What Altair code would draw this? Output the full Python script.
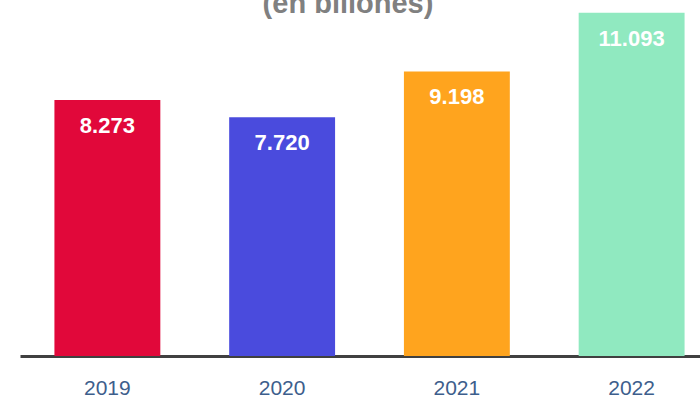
import altair as alt
import pandas as pd

years = ["2019", "2020", "2021", "2022"]
values = [8.273, 7.720, 9.198, 11.093]
labels = ["8.273", "7.720", "9.198", "11.093"]
colors = ["#E1083A", "#4A4BDD", "#FFA41E", "#90E9C0"]
title_text = "(en billones)"

df = pd.DataFrame({"year": years, "value": values, "label": labels})

x = alt.X("year:N", sort=years, title=None,
          scale=alt.Scale(paddingInner=0.394, paddingOuter=0.197, range=[0, 699]),
          axis=alt.Axis(labelAngle=0, labelFontSize=21, labelColor="#3D5E8C",
                        labelFont="Liberation Sans", labelPadding=21,
                        ticks=False, domainColor="#404040", domainWidth=3,
                        grid=False))
y = alt.Y("value:Q", title=None, axis=None,
          scale=alt.Scale(domain=[0, 11.506], nice=False, zero=True))

bars = alt.Chart(df).mark_bar().encode(
    x=x, y=y,
    color=alt.Color("year:N", scale=alt.Scale(domain=years, range=colors), legend=None),
)

text = alt.Chart(df).mark_text(
    color="white", fontSize=22, fontWeight="bold", font="Liberation Sans",
    baseline="alphabetic", dy=33
).encode(x=x, y=y, text="label:N")

title = alt.Chart(pd.DataFrame({"t": [title_text]})).mark_text(
    color="#808080", fontSize=29, fontWeight="bold", font="Liberation Sans",
    baseline="alphabetic", align="center"
).encode(x=alt.value(328), y=alt.value(13), text="t:N")

chart = alt.layer(bars, text, title).properties(
    width=680, height=356,
    autosize=alt.AutoSizeParams(type="none"),
    padding={"left": 20, "top": 0, "right": 0, "bottom": 44},
).configure_view(stroke=None)

chart.save("out.html", embed_options={"renderer": "svg", "actions": False})
